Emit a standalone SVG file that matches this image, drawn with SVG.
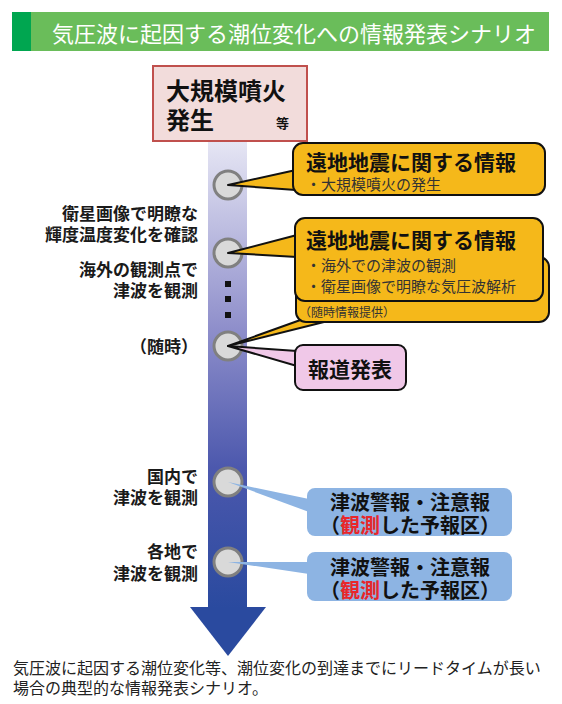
<svg xmlns="http://www.w3.org/2000/svg" width="562" height="704" viewBox="0 0 562 704">
<style>
text{font-family:"Noto Sans CJK JP","Noto Sans",sans-serif;}
.lbl{font-size:17px;font-weight:bold;fill:#1a1a1a;text-anchor:end;}
.yt{font-size:21px;font-weight:bold;fill:#111;}
.ys{font-size:15px;fill:#333;}
.bt{font-size:20px;font-weight:bold;fill:#111;text-anchor:middle;}
.yel{fill:#f5b81a;stroke:#111;stroke-width:2;stroke-linejoin:round;}
.pink{fill:#f0c8e8;stroke:#111;stroke-width:2;stroke-linejoin:round;}
.blue{fill:#8db4e3;}
.dot{fill:#d9d9d9;stroke:#808080;stroke-width:3;}
.red{fill:#e8262a;}
</style>
<defs>
<linearGradient id="barg" x1="0" y1="0" x2="0" y2="1">
<stop offset="0" stop-color="#e6e6f4"/>
<stop offset="0.4" stop-color="#8f8fcb"/>
<stop offset="0.7" stop-color="#4c58ad"/>
<stop offset="1" stop-color="#2a4a9f"/>
</linearGradient>
</defs>
<rect width="562" height="704" fill="#fff"/>
<g id="title">
<rect x="12" y="12" width="537" height="39" fill="#6abd5a"/>
<rect x="12" y="12" width="19" height="39" fill="#00a650"/>
<text x="52" y="42" font-size="22" fill="#fff">気圧波に起因する潮位変化への情報発表シナリオ</text>
</g>
<g id="timeline">
<rect x="208" y="141" width="39" height="467" fill="url(#barg)"/>
<polygon points="190,607 266,607 228,656" fill="#2a4a9f"/>
<rect x="225" y="281" width="6" height="6" fill="#111"/>
<rect x="225" y="296" width="6" height="6" fill="#111"/>
<rect x="225" y="312" width="6" height="6" fill="#111"/>
</g>
<g id="start">
<rect x="153" y="66" width="154" height="75" fill="#f2dcdb" stroke="#c0504d" stroke-width="2"/>
<text x="166" y="100" font-size="24" font-weight="bold" fill="#111">大規模噴火</text>
<text x="166" y="129" font-size="24" font-weight="bold" fill="#111">発生</text>
<text x="276" y="128" font-size="13" font-weight="bold" fill="#111">等</text>
</g>
<g id="points">
<circle class="dot" cx="228" cy="185" r="14"/>
<circle class="dot" cx="228" cy="253" r="14"/>
<circle class="dot" cx="228" cy="346" r="14"/>
<circle class="dot" cx="228" cy="482" r="14"/>
<circle class="dot" cx="228" cy="562" r="14"/>
</g>
<g id="labels">
<text class="lbl" x="198" y="220">衛星画像で明瞭な</text>
<text class="lbl" x="198" y="241">輝度温度変化を確認</text>
<text class="lbl" x="198" y="276">海外の観測点で</text>
<text class="lbl" x="198" y="297">津波を観測</text>
<text class="lbl" x="198" y="353">（随時）</text>
<text class="lbl" x="198" y="483">国内で</text>
<text class="lbl" x="198" y="504">津波を観測</text>
<text class="lbl" x="198" y="558">各地で</text>
<text class="lbl" x="198" y="580">津波を観測</text>
</g>
<g id="connectors">
<polygon class="yel" points="228,185 296,170 296,190"/>
<polygon class="yel" points="228,346 306,318 340,318"/>
<polygon class="pink" points="228,346 297,351 297,366"/>
<polygon class="blue" points="228,482 309,499 309,512"/>
<polygon class="blue" points="228,562 309,562 309,574"/>
</g>
<g id="info1">
<rect class="yel" x="293" y="143" width="252" height="52" rx="10"/>
<text class="yt" x="306" y="170">遠地地震に関する情報</text>
<text class="ys" x="306" y="190">・大規模噴火の発生</text>
</g>
<g id="info2">
<rect class="yel" x="296" y="257" width="253" height="65" rx="10"/>
<polygon class="yel" points="228,253 297,235 297,257"/>
<rect class="yel" x="295" y="218" width="248" height="83" rx="10"/>
<text class="yt" x="306" y="248">遠地地震に関する情報</text>
<text class="ys" x="306" y="271">・海外での津波の観測</text>
<text class="ys" x="306" y="292">・衛星画像で明瞭な気圧波解析</text>
<text x="299" y="317" font-size="12" fill="#333">（随時情報提供）</text>
</g>
<g id="press">
<rect class="pink" x="295" y="345" width="111" height="45" rx="8"/>
<text x="350" y="377" font-size="21" font-weight="bold" fill="#111" text-anchor="middle">報道発表</text>
</g>
<g id="warn1">
<rect class="blue" x="307" y="488" width="205" height="48" rx="8"/>
<text class="bt" x="410" y="510">津波警報・注意報</text>
<text class="bt" x="410" y="533" font-size="19">（<tspan class="red">観測</tspan>した予報区）</text>
</g>
<g id="warn2">
<rect class="blue" x="307" y="552" width="205" height="49" rx="8"/>
<text class="bt" x="410" y="575">津波警報・注意報</text>
<text class="bt" x="410" y="598" font-size="19">（<tspan class="red">観測</tspan>した予報区）</text>
</g>
<g id="caption">
<text x="13" y="674" font-size="16" fill="#222">気圧波に起因する潮位変化等、潮位変化の到達までにリードタイムが長い</text>
<text x="13" y="694" font-size="16" fill="#222">場合の典型的な情報発表シナリオ。</text>
</g>
</svg>
